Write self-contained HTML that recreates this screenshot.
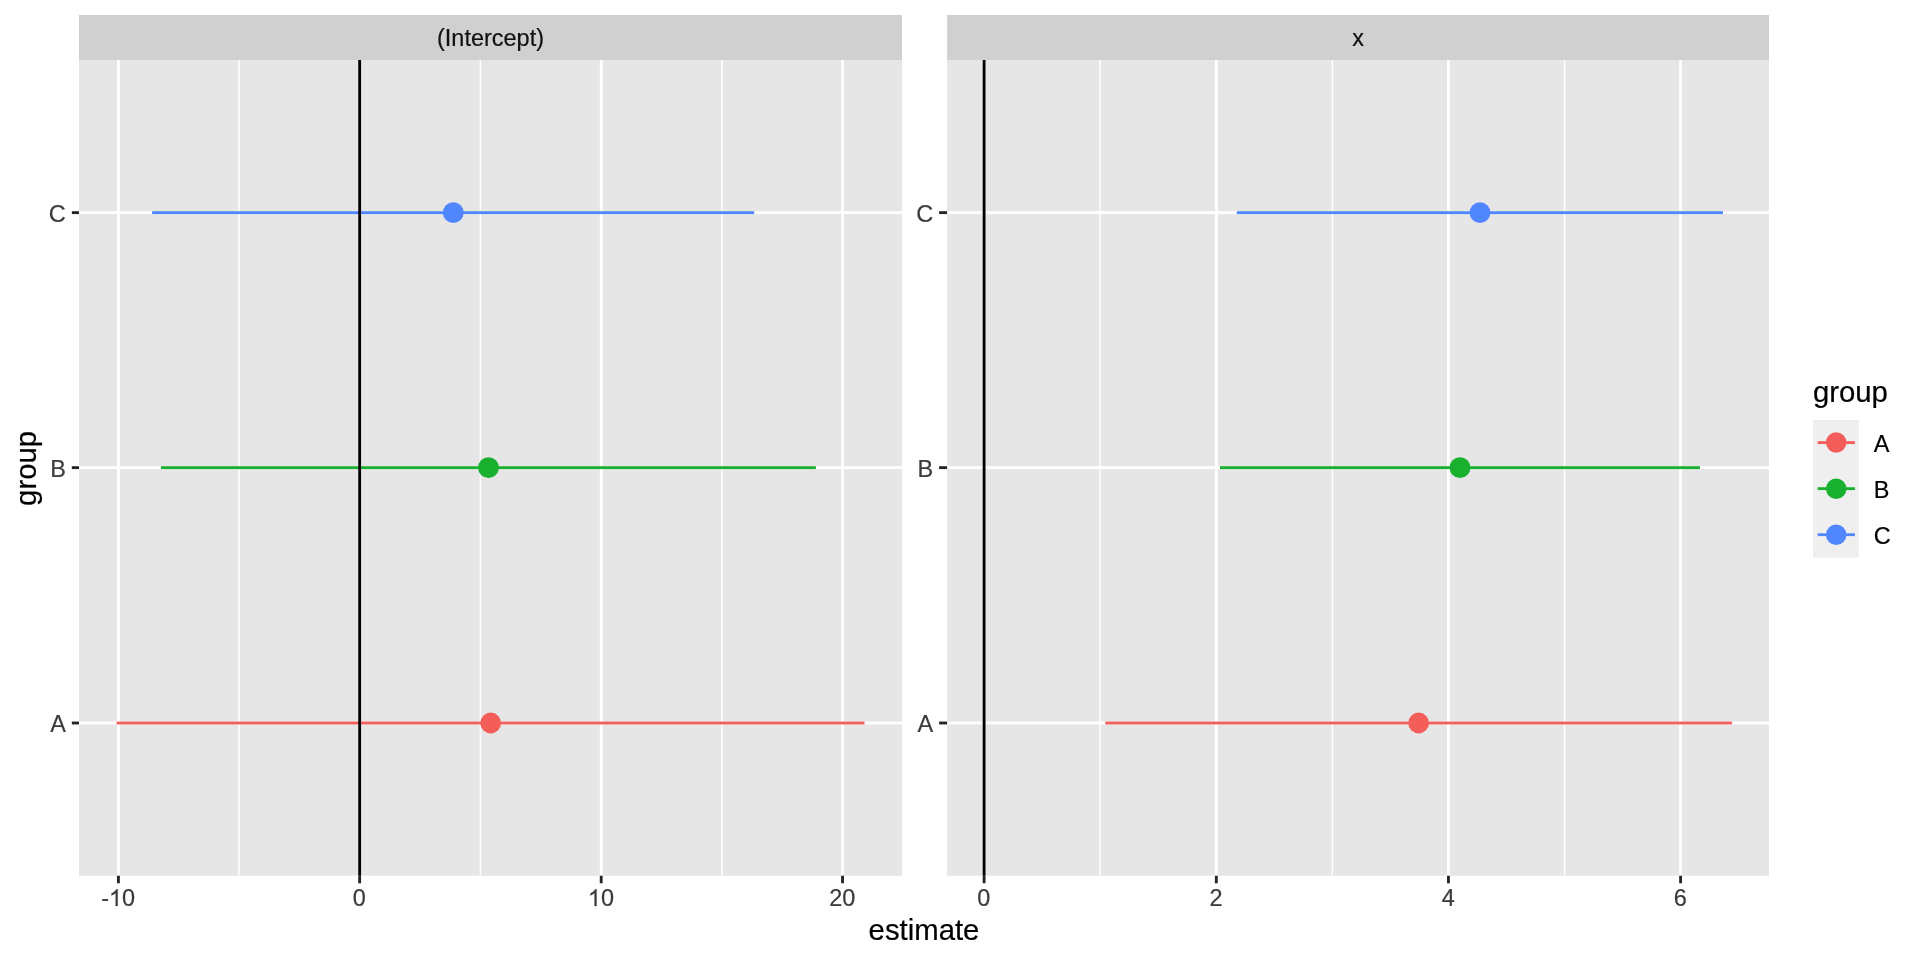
<!DOCTYPE html>
<html><head><meta charset="utf-8"><title>plot</title>
<style>html,body{margin:0;padding:0;background:#fff;}body{width:1920px;height:960px;overflow:hidden;}svg{display:block;will-change:transform;transform:translateZ(0);}text{font-family:"Liberation Sans",sans-serif;stroke-linejoin:round;}path{stroke-linejoin:round;}</style>
</head><body>
<svg width="1920" height="960" viewBox="0 0 1920 960">
<rect x="0" y="0" width="1920" height="960" fill="#FFFFFF"/>
<rect x="79.0" y="15.0" width="823.00" height="45.00" fill="#D0D0D0"/>
<rect x="79.0" y="60.0" width="823.00" height="815.75" fill="#E6E6E6"/>
<rect x="238.290" y="60.0" width="1.42" height="815.75" fill="#FFFFFF"/>
<rect x="479.690" y="60.0" width="1.42" height="815.75" fill="#FFFFFF"/>
<rect x="721.140" y="60.0" width="1.42" height="815.75" fill="#FFFFFF"/>
<rect x="116.978" y="60.0" width="2.845" height="815.75" fill="#FFFFFF"/>
<rect x="358.227" y="60.0" width="2.845" height="815.75" fill="#FFFFFF"/>
<rect x="599.778" y="60.0" width="2.845" height="815.75" fill="#FFFFFF"/>
<rect x="841.127" y="60.0" width="2.845" height="815.75" fill="#FFFFFF"/>
<rect x="79.0" y="211.227" width="823.00" height="2.845" fill="#FFFFFF"/>
<rect x="79.0" y="466.227" width="823.00" height="2.845" fill="#FFFFFF"/>
<rect x="79.0" y="721.577" width="823.00" height="2.845" fill="#FFFFFF"/>
<rect x="116.6" y="721.577" width="747.90" height="2.845" fill="#F45E5A"/>
<circle cx="490.7" cy="723.0" r="10.4" fill="#F45E5A"/>
<rect x="160.9" y="466.227" width="655.00" height="2.845" fill="#18B02E"/>
<circle cx="488.5" cy="467.65" r="10.4" fill="#18B02E"/>
<rect x="152.1" y="211.227" width="602.10" height="2.845" fill="#5087FF"/>
<circle cx="453.3" cy="212.65" r="10.4" fill="#5087FF"/>
<rect x="358.227" y="60.0" width="2.845" height="815.75" fill="#000000"/>
<rect x="116.978" y="875.75" width="2.845" height="7.5" fill="#242424"/>
<text x="101.14" y="906.1" font-size="23.47" fill="#3B3B3B" stroke="#3B3B3B" stroke-width="0.2">-</text>
<path transform="translate(108.96 906.1) scale(0.011460 -0.011460)" d="M763 0H583V1147Q518 1085 412.5 1023Q307 961 223 930V1104Q374 1175 487 1276Q600 1377 647 1472H763Z" fill="#3B3B3B" stroke="#3B3B3B" stroke-width="17.5"/>
<text x="122.01" y="906.1" font-size="23.47" fill="#3B3B3B" stroke="#3B3B3B" stroke-width="0.2">0</text>
<rect x="358.227" y="875.75" width="2.845" height="7.5" fill="#242424"/>
<text x="352.83" y="906.1" font-size="23.47" fill="#3B3B3B" stroke="#3B3B3B" stroke-width="0.2">0</text>
<rect x="599.778" y="875.75" width="2.845" height="7.5" fill="#242424"/>
<path transform="translate(587.85 906.1) scale(0.011460 -0.011460)" d="M763 0H583V1147Q518 1085 412.5 1023Q307 961 223 930V1104Q374 1175 487 1276Q600 1377 647 1472H763Z" fill="#3B3B3B" stroke="#3B3B3B" stroke-width="17.5"/>
<text x="600.90" y="906.1" font-size="23.47" fill="#3B3B3B" stroke="#3B3B3B" stroke-width="0.2">0</text>
<rect x="841.127" y="875.75" width="2.845" height="7.5" fill="#242424"/>
<text x="829.20" y="906.1" font-size="23.47" fill="#3B3B3B" stroke="#3B3B3B" stroke-width="0.2">2</text>
<text x="842.25" y="906.1" font-size="23.47" fill="#3B3B3B" stroke="#3B3B3B" stroke-width="0.2">0</text>
<rect x="71.85" y="211.227" width="7.15" height="2.845" fill="#242424"/>
<text x="65.80" y="221.85" font-size="23.47" fill="#3B3B3B" stroke="#3B3B3B" stroke-width="0.2" text-anchor="end">C</text>
<rect x="71.85" y="466.227" width="7.15" height="2.845" fill="#242424"/>
<text x="65.80" y="476.85" font-size="23.47" fill="#3B3B3B" stroke="#3B3B3B" stroke-width="0.2" text-anchor="end">B</text>
<rect x="71.85" y="721.577" width="7.15" height="2.845" fill="#242424"/>
<text x="65.80" y="732.20" font-size="23.47" fill="#3B3B3B" stroke="#3B3B3B" stroke-width="0.2" text-anchor="end">A</text>
<rect x="947.1" y="15.0" width="821.90" height="45.00" fill="#D0D0D0"/>
<rect x="947.1" y="60.0" width="821.90" height="815.75" fill="#E6E6E6"/>
<rect x="1099.440" y="60.0" width="1.42" height="815.75" fill="#FFFFFF"/>
<rect x="1331.690" y="60.0" width="1.42" height="815.75" fill="#FFFFFF"/>
<rect x="1563.790" y="60.0" width="1.42" height="815.75" fill="#FFFFFF"/>
<rect x="982.678" y="60.0" width="2.845" height="815.75" fill="#FFFFFF"/>
<rect x="1214.878" y="60.0" width="2.845" height="815.75" fill="#FFFFFF"/>
<rect x="1447.028" y="60.0" width="2.845" height="815.75" fill="#FFFFFF"/>
<rect x="1679.178" y="60.0" width="2.845" height="815.75" fill="#FFFFFF"/>
<rect x="947.1" y="211.227" width="821.90" height="2.845" fill="#FFFFFF"/>
<rect x="947.1" y="466.227" width="821.90" height="2.845" fill="#FFFFFF"/>
<rect x="947.1" y="721.577" width="821.90" height="2.845" fill="#FFFFFF"/>
<rect x="1105.25" y="721.577" width="626.70" height="2.845" fill="#F45E5A"/>
<circle cx="1418.6" cy="723.0" r="10.4" fill="#F45E5A"/>
<rect x="1220.0" y="466.227" width="479.90" height="2.845" fill="#18B02E"/>
<circle cx="1460.0" cy="467.65" r="10.4" fill="#18B02E"/>
<rect x="1236.8" y="211.227" width="486.20" height="2.845" fill="#5087FF"/>
<circle cx="1480.0" cy="212.65" r="10.4" fill="#5087FF"/>
<rect x="982.678" y="60.0" width="2.845" height="815.75" fill="#000000"/>
<rect x="982.678" y="875.75" width="2.845" height="7.5" fill="#242424"/>
<text x="977.28" y="906.1" font-size="23.47" fill="#3B3B3B" stroke="#3B3B3B" stroke-width="0.2">0</text>
<rect x="1214.878" y="875.75" width="2.845" height="7.5" fill="#242424"/>
<text x="1209.48" y="906.1" font-size="23.47" fill="#3B3B3B" stroke="#3B3B3B" stroke-width="0.2">2</text>
<rect x="1447.028" y="875.75" width="2.845" height="7.5" fill="#242424"/>
<text x="1441.63" y="906.1" font-size="23.47" fill="#3B3B3B" stroke="#3B3B3B" stroke-width="0.2">4</text>
<rect x="1679.178" y="875.75" width="2.845" height="7.5" fill="#242424"/>
<text x="1673.78" y="906.1" font-size="23.47" fill="#3B3B3B" stroke="#3B3B3B" stroke-width="0.2">6</text>
<rect x="939.10" y="211.227" width="8.0" height="2.845" fill="#242424"/>
<text x="933.25" y="221.85" font-size="23.47" fill="#3B3B3B" stroke="#3B3B3B" stroke-width="0.2" text-anchor="end">C</text>
<rect x="939.10" y="466.227" width="8.0" height="2.845" fill="#242424"/>
<text x="933.25" y="476.85" font-size="23.47" fill="#3B3B3B" stroke="#3B3B3B" stroke-width="0.2" text-anchor="end">B</text>
<rect x="939.10" y="721.577" width="8.0" height="2.845" fill="#242424"/>
<text x="933.25" y="732.20" font-size="23.47" fill="#3B3B3B" stroke="#3B3B3B" stroke-width="0.2" text-anchor="end">A</text>
<text x="490.5" y="45.6" font-size="23.47" fill="#101010" stroke="#101010" stroke-width="0.2" text-anchor="middle">(Intercept)</text>
<text x="1358" y="45.6" font-size="23.47" fill="#101010" stroke="#101010" stroke-width="0.2" text-anchor="middle">x</text>
<text x="924" y="939.8" font-size="29.33" fill="#000" stroke="#000" stroke-width="0.2" text-anchor="middle">estimate</text>
<text transform="translate(35.6 468.4) rotate(-90)" font-size="29.33" fill="#000" stroke="#000" stroke-width="0.2" text-anchor="middle">group</text>
<text x="1812.9" y="401.8" font-size="29.33" fill="#000" stroke="#000" stroke-width="0.2">group</text>
<rect x="1813.0" y="420.0" width="45.90" height="137.70" fill="#EFEFEF"/>
<rect x="1817.7" y="441.178" width="37.2" height="2.845" fill="#F45E5A"/>
<circle cx="1836.2" cy="442.60" r="10.25" fill="#F45E5A"/>
<text x="1873.7" y="452.00" font-size="23.47" fill="#000" stroke="#000" stroke-width="0.2">A</text>
<rect x="1817.7" y="487.228" width="37.2" height="2.845" fill="#18B02E"/>
<circle cx="1836.2" cy="488.65" r="10.25" fill="#18B02E"/>
<text x="1873.7" y="497.90" font-size="23.47" fill="#000" stroke="#000" stroke-width="0.2">B</text>
<rect x="1817.7" y="533.278" width="37.2" height="2.845" fill="#5087FF"/>
<circle cx="1836.2" cy="534.70" r="10.25" fill="#5087FF"/>
<text x="1873.7" y="543.80" font-size="23.47" fill="#000" stroke="#000" stroke-width="0.2">C</text>
</svg></body></html>
